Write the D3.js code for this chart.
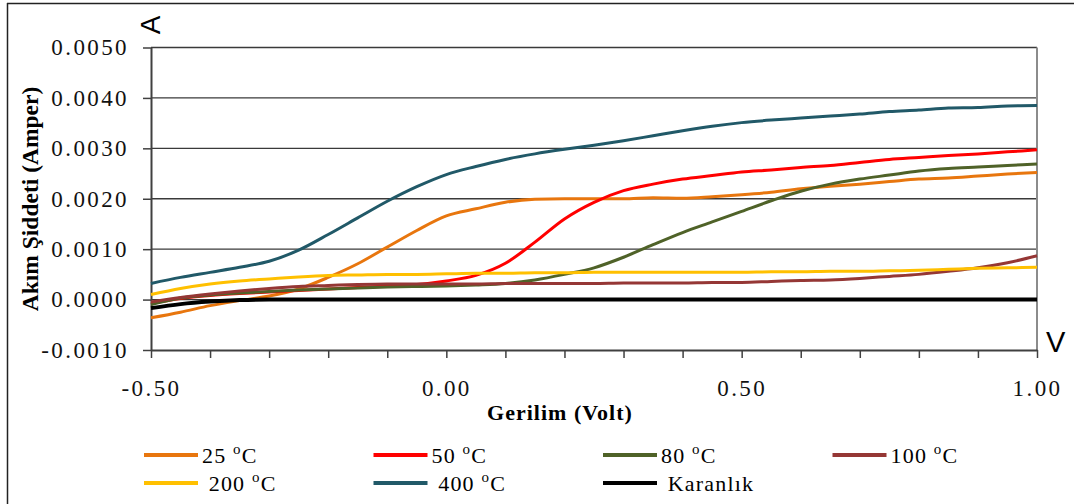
<!DOCTYPE html>
<html>
<head>
<meta charset="utf-8">
<script src="https://cdn.jsdelivr.net/npm/d3@7"></script>
<style>
  body { margin: 0; background: #fff; }
  svg text { font-family: "Liberation Serif", "Times New Roman", serif; white-space: pre; }
</style>
</head>
<body>
<div id="chart"></div>
<script>
// voltage grid (Volt) shared by every series
var volts = d3.range(31).map(function(i){ return -0.5 + i * 0.05; });

// current values, in mA (converted to A when drawn)
var c25   = [-0.36,-0.25,-0.12,-0.02,0.07,0.21,0.44,0.71,1.04,1.37,1.66,1.80,1.93,1.99,2.00,2.00,2.00,2.02,2.01,2.04,2.08,2.13,2.20,2.25,2.29,2.34,2.39,2.41,2.45,2.49,2.52];
var c50   = [-0.08,0.02,0.08,0.12,0.15,0.18,0.21,0.24,0.27,0.30,0.37,0.48,0.72,1.14,1.60,1.93,2.16,2.29,2.39,2.46,2.53,2.57,2.62,2.66,2.72,2.78,2.82,2.86,2.89,2.93,2.97];
var c80   = [-0.10,0.03,0.09,0.13,0.16,0.19,0.21,0.23,0.25,0.26,0.27,0.29,0.32,0.39,0.50,0.63,0.84,1.09,1.33,1.54,1.75,1.96,2.15,2.29,2.39,2.47,2.55,2.60,2.63,2.66,2.69];
var c100  = [-0.05,0.04,0.11,0.17,0.22,0.26,0.28,0.30,0.31,0.31,0.31,0.31,0.32,0.32,0.32,0.32,0.33,0.33,0.33,0.34,0.34,0.36,0.38,0.39,0.42,0.46,0.50,0.56,0.63,0.73,0.87];
var c200  = [0.10,0.22,0.31,0.37,0.41,0.45,0.48,0.49,0.50,0.50,0.51,0.52,0.52,0.53,0.53,0.54,0.54,0.54,0.54,0.54,0.54,0.55,0.55,0.56,0.56,0.57,0.58,0.60,0.62,0.63,0.64];
var c400  = [0.32,0.44,0.54,0.64,0.76,0.98,1.29,1.62,1.95,2.24,2.48,2.64,2.78,2.89,2.98,3.06,3.15,3.25,3.35,3.44,3.51,3.56,3.60,3.64,3.68,3.73,3.76,3.80,3.81,3.84,3.85];
var cDark = [-0.17,-0.09,-0.04,-0.01,0,0,0,0,0,0,0,0,0,0,0,0,0,0,0,0,0,0,0,0,0,0,0,0,0,0,0];

var seriesNames  = ["25 \u00b0C", "50 \u00b0C", "80 \u00b0C", "100 \u00b0C", "200 \u00b0C", "400 \u00b0C", "Karanlık"];
var seriesValues = [c25, c50, c80, c100, c200, c400, cDark];
var seriesColors = ["#E8760E", "#FF0000", "#4F6228", "#953735", "#FFC000", "#215968", "#000000"];

var yTicks = [-0.001, 0, 0.001, 0.002, 0.003, 0.004, 0.005];
var xTicks = d3.range(16).map(function(i){ return -0.5 + i * 0.1; });
var xLabels = [-0.5, 0, 0.5, 1.0];

var W = 1074, H = 504;
var margin = { top: 47.5, right: 37, bottom: 154, left: 151 };
var w = W - margin.left - margin.right;
var h = H - margin.top - margin.bottom;

var svg = d3.select("#chart").append("svg")
    .attr("width", W)
    .attr("height", H);

// outer frame (top and left only are visible)
svg.append("line").attr("x1", 7).attr("x2", W).attr("y1", 3.5).attr("y2", 3.5)
    .attr("stroke", "#222").attr("stroke-width", 1.5);
svg.append("line").attr("x1", 7.5).attr("x2", 7.5).attr("y1", 3).attr("y2", H)
    .attr("stroke", "#222").attr("stroke-width", 1.5);

var g = svg.append("g")
    .attr("transform", "translate(" + margin.left + "," + margin.top + ")");

var x = d3.scaleLinear().domain([-0.5, 1.0]).range([0, w]);
var y = d3.scaleLinear().domain([-0.001, 0.005]).range([h, 0]);

// plain hyphen for negatives, like the original
function hy(s){ return s.replace("\u2212", "-"); }

// horizontal gridlines
g.append("g").selectAll("line.grid")
    .data(yTicks.filter(function(d){ return d > -0.001; }))
    .enter().append("line")
    .attr("class", "grid")
    .attr("x1", 0).attr("x2", w)
    .attr("y1", function(d){ return y(d); })
    .attr("y2", function(d){ return y(d); })
    .attr("stroke", "#3a3a3a")
    .attr("stroke-width", 1.3);

// right border of plot area
g.append("line")
    .attr("x1", w).attr("x2", w).attr("y1", 0).attr("y2", h)
    .attr("stroke", "#8c8c8c").attr("stroke-width", 2);

// y axis
var yAxis = g.append("g")
    .call(d3.axisLeft(y).tickValues(yTicks).tickSize(8).tickPadding(14).tickSizeOuter(0)
        .tickFormat(function(d){ return hy(d3.format(".4f")(d)); }));
yAxis.select(".domain").attr("stroke", "#404040").attr("stroke-width", 2);
yAxis.selectAll(".tick line").attr("stroke", "#404040").attr("stroke-width", 1.5);
yAxis.selectAll("text")
    .attr("font-family", "Liberation Serif")
    .attr("font-size", 23)
    .attr("letter-spacing", 2.4)
    .attr("fill", "#111");

// x axis
var xAxis = g.append("g")
    .attr("transform", "translate(0," + h + ")")
    .call(d3.axisBottom(x).tickValues(xTicks).tickSize(8).tickPadding(30).tickSizeOuter(0)
        .tickFormat(function(d){
            var hit = xLabels.some(function(l){ return Math.abs(l - d) < 1e-6; });
            return hit ? hy(d3.format(".2f")(d)) : "";
        }));
xAxis.select(".domain").attr("stroke", "#404040").attr("stroke-width", 2);
xAxis.selectAll(".tick line").attr("stroke", "#404040").attr("stroke-width", 1.5);
xAxis.selectAll("text")
    .attr("font-family", "Liberation Serif")
    .attr("font-size", 23)
    .attr("letter-spacing", 2.4)
    .attr("dy", "0.35em")
    .attr("fill", "#111");

// curves
var line = d3.line()
    .x(function(d){ return x(d.v); })
    .y(function(d){ return y(d.a / 1000); })
    .curve(d3.curveMonotoneX);

seriesValues.forEach(function(vals, i){
    var pts = vals.map(function(a, j){ return { v: volts[j], a: a }; });
    g.append("path")
        .datum(pts)
        .attr("fill", "none")
        .attr("stroke", seriesColors[i])
        .attr("stroke-width", i === 6 ? 4 : 3)
        .attr("stroke-linejoin", "round")
        .attr("d", line);
});

// unit letters on the axes
svg.append("text")
    .attr("transform", "translate(160,25) rotate(-90)")
    .attr("text-anchor", "middle")
    .style("font-family", "Liberation Sans, Arial, sans-serif")
    .attr("font-size", 28)
    .text("A");
svg.append("text")
    .attr("x", 1046).attr("y", 352)
    .style("font-family", "Liberation Sans, Arial, sans-serif")
    .attr("font-size", 29)
    .text("V");

// axis titles
svg.append("text")
    .attr("transform", "translate(38,199) rotate(-90)")
    .attr("text-anchor", "middle")
    .attr("font-weight", "bold")
    .attr("font-size", 23.5)
    .text("Akım Şiddeti (Amper)");
svg.append("text")
    .attr("x", 560).attr("y", 420)
    .attr("text-anchor", "middle")
    .attr("font-weight", "bold")
    .attr("font-size", 22)
    .attr("letter-spacing", 1)
    .text("Gerilim (Volt)");

// legend: 4 columns, 2 rows
var legendLabels = ["25 ", "50 ", "80 ", "100 ", " 200 ", " 400 ", " Karanlık"];
var legend = svg.append("g");
seriesNames.forEach(function(name, i){
    var col = i % 4, row = Math.floor(i / 4);
    var lx = 144 + col * 229.5, ly = 455 + row * 28;
    legend.append("line")
        .attr("x1", lx).attr("x2", lx + 54)
        .attr("y1", ly).attr("y2", ly)
        .attr("stroke", seriesColors[i])
        .attr("stroke-width", 4);
    var t = legend.append("text")
        .attr("x", lx + 58).attr("y", ly + 8)
        .attr("font-size", 22)
        .attr("letter-spacing", 1.2);
    if (i === 6) {
        t.text(legendLabels[i]);
    } else {
        t.append("tspan").text(legendLabels[i]);
        t.append("tspan").attr("dy", -9).attr("font-size", 15).text("o");
        t.append("tspan").attr("dy", 9).text("C");
    }
});
</script>
</body>
</html>
